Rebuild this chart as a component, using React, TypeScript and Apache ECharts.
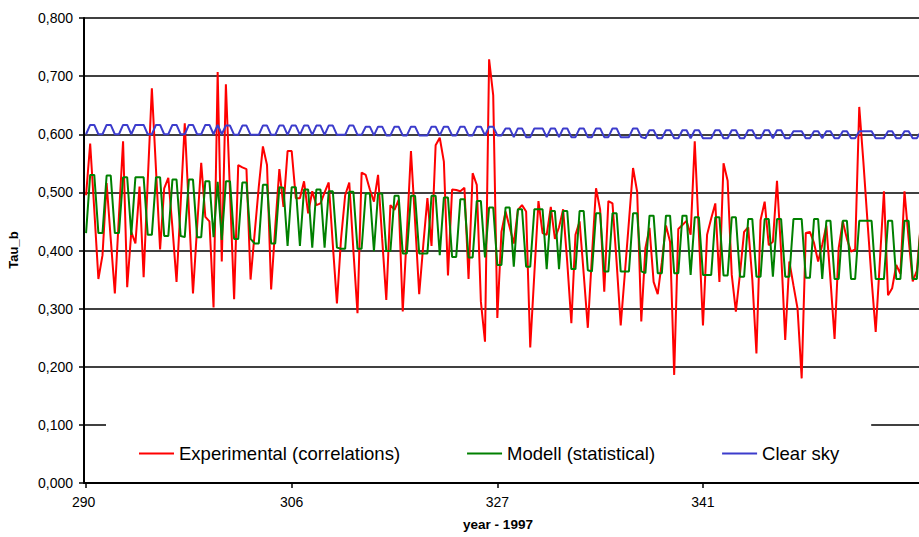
import React, { useEffect, useRef } from "react";
import * as echarts from "echarts";

// X tick labels (shown every 50th measurement)
const xTickLabels = ["290", "306", "327", "341"];
const xTickStep = 50;

const yTicks = [0, 0.1, 0.2, 0.3, 0.4, 0.5, 0.6, 0.7, 0.8];

const seriesNames = ["Experimental (correlations)", "Modell (statistical)", "Clear sky"];

const experimental = [
  0.495, 0.584, 0.47, 0.351, 0.392, 0.516, 0.42, 0.326, 0.46, 0.588, 0.337, 0.432, 0.412, 0.51, 0.354, 0.52, 0.679,
  0.54, 0.402, 0.507, 0.525, 0.44, 0.346, 0.48, 0.619, 0.47, 0.326, 0.44, 0.551, 0.458, 0.45, 0.302, 0.707, 0.381,
  0.686, 0.5, 0.316, 0.547, 0.543, 0.54, 0.35, 0.43, 0.51, 0.579, 0.547, 0.333, 0.44, 0.54, 0.475, 0.571, 0.571,
  0.49, 0.49, 0.519, 0.464, 0.502, 0.478, 0.481, 0.5, 0.517, 0.41, 0.309, 0.42, 0.495, 0.517, 0.4, 0.292, 0.534,
  0.53, 0.505, 0.484, 0.53, 0.42, 0.315, 0.478, 0.47, 0.487, 0.295, 0.43, 0.571, 0.45, 0.325, 0.41, 0.49, 0.408,
  0.581, 0.594, 0.553, 0.357, 0.505, 0.504, 0.502, 0.508, 0.351, 0.533, 0.513, 0.312, 0.243, 0.729, 0.667, 0.284, 0.432,
  0.467, 0.44, 0.412, 0.47, 0.478, 0.467, 0.233, 0.36, 0.485, 0.43, 0.427, 0.475, 0.42, 0.44, 0.471, 0.38, 0.275,
  0.427, 0.45, 0.36, 0.267, 0.39, 0.507, 0.47, 0.329, 0.485, 0.481, 0.38, 0.271, 0.36, 0.45, 0.542, 0.501, 0.278,
  0.404, 0.439, 0.346, 0.325, 0.38, 0.443, 0.415, 0.186, 0.437, 0.444, 0.451, 0.427, 0.588, 0.43, 0.271, 0.427, 0.455,
  0.481, 0.346, 0.55, 0.52, 0.358, 0.295, 0.36, 0.432, 0.44, 0.35, 0.223, 0.452, 0.484, 0.409, 0.415, 0.52, 0.398,
  0.246, 0.381, 0.34, 0.3, 0.18, 0.43, 0.432, 0.413, 0.381, 0.41, 0.443, 0.35, 0.248, 0.404, 0.45, 0.42, 0.398,
  0.402, 0.647, 0.553, 0.45, 0.35, 0.26, 0.38, 0.502, 0.323, 0.335, 0.375, 0.36, 0.502, 0.42, 0.347, 0.365, 0.45,
];

const modell = [
  0.43, 0.53, 0.53, 0.43, 0.43, 0.529, 0.529, 0.43, 0.43, 0.526, 0.526, 0.427, 0.526, 0.526, 0.526, 0.427, 0.427,
  0.526, 0.526, 0.425, 0.425, 0.522, 0.522, 0.425, 0.423, 0.522, 0.522, 0.423, 0.423, 0.519, 0.519, 0.423, 0.518, 0.418,
  0.519, 0.519, 0.42, 0.42, 0.517, 0.517, 0.42, 0.412, 0.412, 0.513, 0.513, 0.412, 0.412, 0.509, 0.508, 0.408, 0.509,
  0.509, 0.408, 0.505, 0.505, 0.405, 0.505, 0.505, 0.405, 0.502, 0.502, 0.405, 0.403, 0.403, 0.501, 0.501, 0.403, 0.403,
  0.498, 0.498, 0.399, 0.498, 0.498, 0.399, 0.399, 0.494, 0.494, 0.395, 0.395, 0.494, 0.494, 0.395, 0.395, 0.395, 0.494,
  0.494, 0.392, 0.491, 0.491, 0.389, 0.389, 0.488, 0.488, 0.388, 0.388, 0.485, 0.485, 0.388, 0.474, 0.474, 0.375, 0.375,
  0.474, 0.474, 0.372, 0.471, 0.471, 0.372, 0.372, 0.471, 0.471, 0.471, 0.368, 0.468, 0.468, 0.368, 0.468, 0.468, 0.368,
  0.368, 0.468, 0.468, 0.366, 0.364, 0.464, 0.464, 0.364, 0.364, 0.464, 0.464, 0.364, 0.364, 0.364, 0.464, 0.464, 0.364,
  0.361, 0.46, 0.46, 0.361, 0.361, 0.46, 0.46, 0.361, 0.361, 0.46, 0.46, 0.358, 0.457, 0.457, 0.358, 0.358, 0.358,
  0.457, 0.457, 0.357, 0.357, 0.457, 0.457, 0.355, 0.355, 0.454, 0.454, 0.355, 0.355, 0.454, 0.454, 0.355, 0.454, 0.454,
  0.355, 0.355, 0.454, 0.454, 0.454, 0.353, 0.353, 0.454, 0.454, 0.351, 0.451, 0.451, 0.351, 0.351, 0.451, 0.451, 0.351,
  0.351, 0.451, 0.451, 0.451, 0.451, 0.351, 0.351, 0.351, 0.451, 0.451, 0.351, 0.351, 0.451, 0.451, 0.351, 0.351, 0.451,
];

const clearSky = [
  0.6, 0.616, 0.616, 0.6, 0.6, 0.616, 0.616, 0.6, 0.6, 0.616, 0.616, 0.6, 0.616, 0.616, 0.616, 0.6, 0.6,
  0.616, 0.616, 0.6, 0.6, 0.616, 0.616, 0.6, 0.6, 0.616, 0.616, 0.6, 0.6, 0.616, 0.616, 0.6, 0.616, 0.6,
  0.615, 0.615, 0.599, 0.599, 0.615, 0.615, 0.599, 0.599, 0.599, 0.615, 0.615, 0.599, 0.599, 0.615, 0.615, 0.599, 0.615,
  0.615, 0.599, 0.615, 0.615, 0.599, 0.615, 0.615, 0.599, 0.615, 0.615, 0.599, 0.599, 0.599, 0.615, 0.615, 0.599, 0.599,
  0.613, 0.613, 0.598, 0.613, 0.613, 0.598, 0.598, 0.613, 0.613, 0.598, 0.598, 0.613, 0.613, 0.598, 0.598, 0.598, 0.613,
  0.613, 0.598, 0.613, 0.613, 0.598, 0.598, 0.613, 0.613, 0.598, 0.598, 0.613, 0.613, 0.598, 0.613, 0.613, 0.598, 0.598,
  0.61, 0.61, 0.595, 0.61, 0.61, 0.595, 0.595, 0.61, 0.61, 0.61, 0.595, 0.61, 0.61, 0.595, 0.61, 0.61, 0.595,
  0.595, 0.61, 0.61, 0.595, 0.595, 0.61, 0.61, 0.595, 0.595, 0.61, 0.61, 0.595, 0.595, 0.595, 0.61, 0.61, 0.595,
  0.593, 0.607, 0.607, 0.593, 0.593, 0.607, 0.607, 0.593, 0.593, 0.607, 0.607, 0.593, 0.607, 0.607, 0.593, 0.593, 0.593,
  0.607, 0.607, 0.593, 0.593, 0.607, 0.607, 0.593, 0.593, 0.607, 0.607, 0.593, 0.593, 0.607, 0.607, 0.593, 0.607, 0.607,
  0.593, 0.593, 0.605, 0.605, 0.605, 0.593, 0.593, 0.605, 0.605, 0.593, 0.605, 0.605, 0.593, 0.593, 0.605, 0.605, 0.593,
  0.593, 0.605, 0.605, 0.605, 0.605, 0.593, 0.593, 0.593, 0.605, 0.605, 0.593, 0.593, 0.605, 0.605, 0.593, 0.593, 0.605,
];

const categories = experimental.map((_, i) => String(i));
const colors = ["#ff0000", "#008000", "#3c3ccc"];

export default function App() {
  const ref = useRef<HTMLDivElement>(null);
  useEffect(() => {
    const chart = echarts.init(ref.current!, null, { renderer: "svg" });
    const font = "'Liberation Sans', Arial, sans-serif";
    const showTick = (i: number) => i % xTickStep === 0 && i / xTickStep < xTickLabels.length;
    chart.setOption({
      animation: false,
      backgroundColor: "#ffffff",
      grid: { left: 84, right: 0, top: 18, bottom: 54, containLabel: false },
      xAxis: {
        type: "category",
        data: categories,
        boundaryGap: true,
        axisLine: { show: true, lineStyle: { color: "#000", width: 2 } },
        axisTick: {
          show: true,
          alignWithLabel: true,
          length: 5,
          interval: (i: number) => showTick(i),
          lineStyle: { color: "#000", width: 1.5 },
        },
        axisLabel: {
          interval: (i: number) => showTick(i),
          formatter: (_v: string, i: number) => {
            const t = xTickLabels[i / xTickStep] ?? "";
            return i === 0 ? "{first|" + t + "}" : t;
          },
          rich: {
            first: { padding: [0, 5, 0, 0], fontSize: 14, color: "#000", fontFamily: font },
          },
          fontSize: 14,
          color: "#000",
          margin: 12,
          fontFamily: font,
        },
        splitLine: { show: false },
      },
      yAxis: {
        type: "value",
        min: yTicks[0],
        max: yTicks[yTicks.length - 1],
        interval: 0.1,
        axisLine: { show: true, lineStyle: { color: "#000", width: 2 } },
        axisTick: { show: true, length: 5, lineStyle: { color: "#000", width: 1.5 } },
        axisLabel: {
          formatter: (v: number) => v.toFixed(3).replace(".", ","),
          fontSize: 14,
          color: "#000",
          margin: 11,
          fontFamily: font,
        },
        splitLine: { show: true, lineStyle: { color: "#000", width: 1.5 } },
      },
      legend: {
        data: seriesNames,
        left: 106,
        top: 416,
        backgroundColor: "#ffffff",
        padding: [28, 32, 12, 33],
        itemWidth: 35,
        itemHeight: 2,
        itemGap: 67,
        icon: "rect",
        textStyle: { fontSize: 18.5, color: "#000", fontFamily: font },
      },
      graphic: [
        {
          type: "text",
          x: 13,
          y: 250,
          rotation: Math.PI / 2,
          style: {
            text: "Tau_b",
            fontSize: 13,
            fontWeight: "bold",
            fontFamily: font,
            fill: "#000",
            textAlign: "center",
            textVerticalAlign: "middle",
          },
        },
        {
          type: "text",
          x: 498,
          y: 524,
          style: {
            text: "year - 1997",
            fontSize: 13.5,
            fontWeight: "bold",
            fontFamily: font,
            fill: "#000",
            textAlign: "center",
            textVerticalAlign: "middle",
          },
        },
      ],
      series: [experimental, modell, clearSky].map((d, k) => ({
        name: seriesNames[k],
        type: "line",
        data: d,
        symbol: "none",
        showSymbol: false,
        lineStyle: { color: colors[k], width: 2 },
        itemStyle: { color: colors[k] },
        emphasis: { disabled: true },
      })),
    });
    return () => chart.dispose();
  }, []);
  return (
    <div style={{ position: "absolute", left: 0, top: 0, width: 919, height: 537, overflow: "hidden" }}>
      <div ref={ref} style={{ width: 923, height: 537 }} />
    </div>
  );
}
